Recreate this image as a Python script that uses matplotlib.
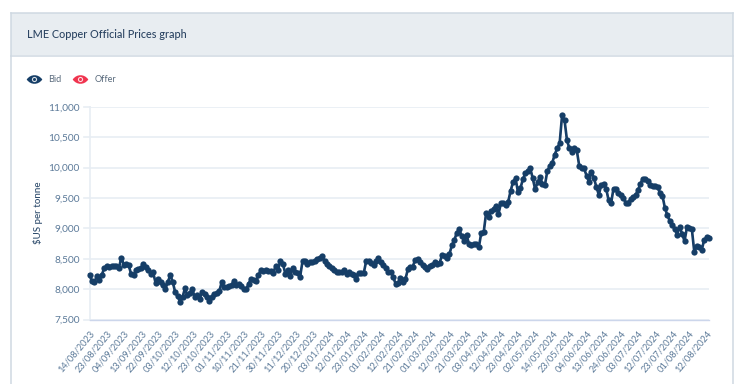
import numpy as np
import matplotlib
matplotlib.use("Agg")
import matplotlib.pyplot as plt
from matplotlib.patches import Rectangle, Circle, PathPatch
from matplotlib.path import Path

plt.rcParams['font.family'] = ['Lato', 'DejaVu Sans']

tick_dates = ["14/08/2023","23/08/2023","04/09/2023","13/09/2023","22/09/2023","03/10/2023","12/10/2023",
              "23/10/2023","01/11/2023","10/11/2023","21/11/2023","30/11/2023","11/12/2023","20/12/2023",
              "03/01/2024","12/01/2024","23/01/2024","01/02/2024","12/02/2024","21/02/2024","01/03/2024",
              "12/03/2024","21/03/2024","03/04/2024","12/04/2024","23/04/2024","02/05/2024","14/05/2024",
              "23/05/2024","04/06/2024","13/06/2024","24/06/2024","03/07/2024","12/07/2024","23/07/2024",
              "01/08/2024","12/08/2024"]
y_ticks = [7500, 8000, 8500, 9000, 9500, 10000, 10500, 11000]

bid = [8240,8130,8120,8210,8155,8225,8350,8375,8360,8375,8375,8385,8350,8515,8405,8415,8390,8250,8225,8320,
       8335,8345,8415,8360,8320,8250,8275,8100,8170,8115,8060,8005,8115,8235,8115,7950,7880,7795,7870,8015,
       7895,7935,7995,7870,7895,7840,7950,7920,7870,7810,7870,7920,7935,7965,8115,8030,8030,8045,8060,8140,
       8060,8090,8050,8005,7995,8090,8170,8155,8130,8225,8320,8300,8310,8300,8290,8265,8375,8320,8460,8415,
       8250,8310,8210,8350,8280,8270,8200,8460,8470,8415,8440,8445,8460,8500,8515,8540,8470,8415,8375,8350,
       8320,8280,8280,8275,8320,8250,8280,8250,8225,8170,8265,8270,8265,8460,8470,8430,8405,8460,8515,8445,
       8405,8350,8280,8280,8200,8090,8100,8190,8120,8160,8325,8370,8370,8480,8490,8450,8395,8370,8335,8380,
       8395,8445,8420,8435,8560,8550,8520,8575,8725,8805,8930,8985,8875,8790,8890,8740,8725,8740,8750,8685,
       8930,8940,9260,9190,9290,9315,9375,9230,9410,9410,9385,9440,9620,9765,9825,9590,9660,9810,9905,9950,
       9990,9825,9645,9755,9850,9730,9715,9950,10020,10080,10215,10315,10400,10860,10780,10450,10315,10250,10325,10285,
       10030,9985,9985,9865,9765,9930,9830,9680,9555,9710,9735,9655,9460,9410,9655,9655,9575,9545,9500,9425,
       9425,9480,9520,9545,9630,9735,9820,9820,9775,9720,9700,9690,9685,9575,9535,9335,9215,9120,9050,8995,
       8895,9025,8915,8790,9015,9005,8985,8610,8705,8695,8640,8805,8850,8835]
offer = list(bid)

W, H = 737, 384
fig = plt.figure(figsize=(W/100, H/100), dpi=100, facecolor='white')
bg = fig.add_axes([0, 0, 1, 1])
bg.set_xlim(0, W); bg.set_ylim(H, 0); bg.axis('off')

border = '#cfd9e2'
bg.add_patch(Rectangle((11.5, 13), 721.5, 42, fc='#e8edf1', ec='none'))
bg.plot([11.5, 11.5], [13, H], color=border, lw=1.1)
bg.plot([733, 733], [13, H], color=border, lw=1.1)
bg.plot([11.5, 733], [13, 13], color=border, lw=1.1)
bg.plot([11.5, 733], [55.5, 55.5], color=border, lw=1.1)

bg.text(27, 34, "LME Copper Official Prices graph", fontsize=7.8, color='#2c4563',
        fontweight='medium', va='center', ha='left')

def eye(cx, cy, col):
    w, h = 7.8, 4.4
    verts = [(cx-w, cy), (cx-w/2, cy-h*1.3), (cx+w/2, cy-h*1.3), (cx+w, cy),
             (cx+w/2, cy+h*1.3), (cx-w/2, cy+h*1.3), (cx-w, cy), (cx-w, cy)]
    codes = [Path.MOVETO, Path.CURVE4, Path.CURVE4, Path.CURVE4,
             Path.CURVE4, Path.CURVE4, Path.CURVE4, Path.CLOSEPOLY]
    bg.add_patch(PathPatch(Path(verts, codes), fc=col, ec='none'))
    bg.add_patch(Circle((cx, cy), 2.6, fc='white', ec='none', alpha=0.85))
    bg.add_patch(Circle((cx, cy), 1.5, fc=col, ec='none'))

eye(34.5, 79.5, '#163e67')
eye(80.5, 79.5, '#f0344f')
bg.text(48, 79.5, "Bid", fontsize=6.6, color='#5a6b7d', va='center', ha='left')
bg.text(94.5, 79.5, "Offer", fontsize=6.6, color='#5a6b7d', va='center', ha='left')
bg.text(38.5, 213, "$US per tonne", fontsize=7.0, color='#2c4a6b', rotation=90,
        va='center', ha='center', fontweight='medium')

left, right, top, bottom = 89.5, 709, 106.8, 319.5
ax = fig.add_axes([left/W, 1-bottom/H, (right-left)/W, (bottom-top)/H])
ax.patch.set_alpha(0)
x = np.arange(len(bid))
ax.plot(x, offer, color='#f0344f', lw=1.0, marker='o', ms=2.5, mew=0, clip_on=False, zorder=3)
ax.plot(x, bid, color='#163e67', lw=1.9, marker='o', ms=4.5, mew=0, clip_on=False, zorder=4)
ax.set_xlim(0, len(bid)-1)
ax.set_ylim(7500, 11000)
ax.set_yticks(y_ticks)
ax.set_yticklabels([f"{v:,}" for v in y_ticks], fontsize=7.3, color='#5c7a99')
ax.set_xticks(x[::7])
ax.set_xticklabels(tick_dates, fontsize=6.7, color='#5c7a99', rotation=50, ha='right',
                   rotation_mode='anchor')
ax.tick_params(axis='y', length=0, pad=7)
ax.tick_params(axis='x', length=0, pad=7)
ax.grid(axis='y', color='#e8edf3', lw=1.2)
ax.set_axisbelow(True)
for s in ['top', 'right']:
    ax.spines[s].set_visible(False)
ax.spines['left'].set_color('#e8edf3'); ax.spines['left'].set_linewidth(1.2)
ax.spines['bottom'].set_color('#ccd6eb'); ax.spines['bottom'].set_linewidth(1.0)
for v in y_ticks:
    ax.plot([-2.2, 0], [v, v], color='#e8edf3', lw=1.2, clip_on=False)

fig.savefig('out.png', dpi=100)
